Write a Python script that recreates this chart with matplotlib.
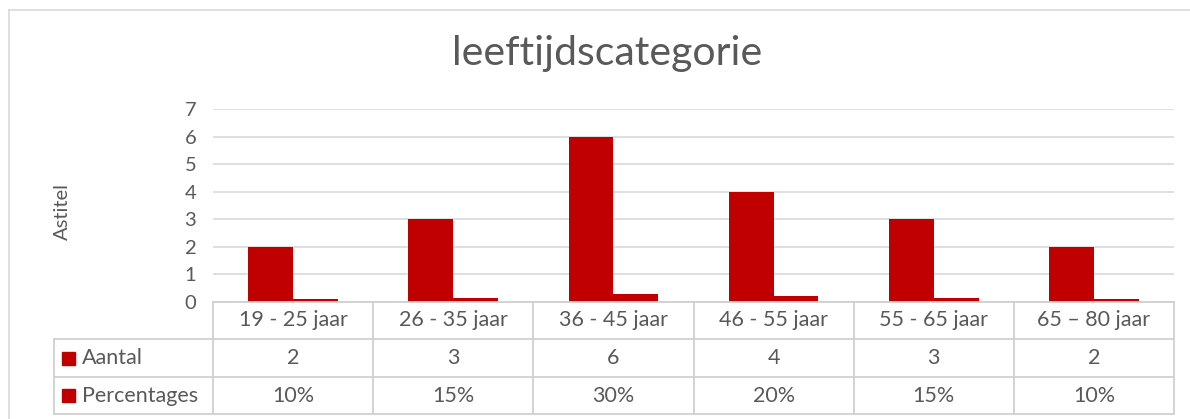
import matplotlib
matplotlib.use("Agg")
import matplotlib.pyplot as plt
from matplotlib.lines import Line2D
from matplotlib.patches import Rectangle

categories = ["19 - 25 jaar", "26 - 35 jaar", "36 - 45 jaar", "46 - 55 jaar", "55 - 65 jaar", "65 \u2013 80 jaar"]
aantal = [2, 3, 6, 4, 3, 2]
percentages = [0.10, 0.15, 0.30, 0.20, 0.15, 0.10]
series_names = ["Aantal", "Percentages"]
title = "leeftijdscategorie"
ylabel = "Astitel"
yticks = [0, 1, 2, 3, 4, 5, 6, 7]

W, H = 1190, 419
RED = "#C00000"
TXT = "#595959"
GRID = "#D9D9D9"
FONT = "Lato"

plt.rcParams['font.family'] = [FONT, 'DejaVu Sans']

fig = plt.figure(figsize=(W / 100, H / 100), dpi=100)

def fx(px):
    return px / W

def fy(py):
    return 1 - py / H

left_px, right_px, top_px, bot_px = 213, 1174, 109, 302
ax = fig.add_axes([fx(left_px), fy(bot_px), fx(right_px - left_px), fy(top_px) - fy(bot_px)])

n = len(categories)
xs = list(range(n))
bw = 0.28
ax.bar([x - bw / 2 for x in xs], aantal, width=bw, color=RED, zorder=3)
ax.bar([x + bw / 2 for x in xs], percentages, width=bw, color=RED, zorder=3)

ax.set_xlim(-0.5, n - 0.5)
ax.set_ylim(0, 7)
ax.set_yticks(yticks)
ax.set_yticklabels([str(t) for t in yticks], color=TXT, fontsize=14.5)
ax.tick_params(axis='y', length=0, pad=12)
ax.set_xticks([])
for s in ax.spines.values():
    s.set_visible(False)
ax.grid(axis='y', color=GRID, lw=1.2, zorder=0)
ax.set_axisbelow(True)

# title and y label
fig.text(fx(607), fy(54), title, ha='center', va='center', fontsize=29.5, color=TXT)
fig.text(fx(62), fy(211), ylabel, ha='center', va='center', rotation=90, fontsize=14.5, color=TXT)

# outer chart border
fig.add_artist(Line2D([fx(9), fx(1200)], [fy(10), fy(10)], color=GRID, lw=1.2))
fig.add_artist(Line2D([fx(9), fx(9)], [fy(10), fy(430)], color=GRID, lw=1.2))

# data table
row_y = [302, 339, 377, 414]
tab_left = 54
fig.canvas.draw()
def data_to_px(x):
    disp = ax.transData.transform((x, 0))
    return disp[0] / fig.dpi * 100

bounds = [data_to_px(i - 0.5) for i in range(n + 1)]
lc = "#D0D0D0"
lw = 1.3
fs_tab = 15.5
# horizontal lines
fig.add_artist(Line2D([fx(bounds[0]), fx(bounds[-1])], [fy(row_y[0]), fy(row_y[0])], color=lc, lw=lw))
for yy in row_y[1:]:
    fig.add_artist(Line2D([fx(tab_left), fx(bounds[-1])], [fy(yy), fy(yy)], color=lc, lw=lw))
# vertical lines
for b in bounds:
    fig.add_artist(Line2D([fx(b), fx(b)], [fy(row_y[0]), fy(row_y[-1])], color=lc, lw=lw))
fig.add_artist(Line2D([fx(tab_left), fx(tab_left)], [fy(row_y[1]), fy(row_y[-1])], color=lc, lw=lw))

centers = [(bounds[i] + bounds[i + 1]) / 2 for i in range(n)]
ymid = [(row_y[i] + row_y[i + 1]) / 2 for i in range(3)]
for i, c in enumerate(categories):
    fig.text(fx(centers[i]), fy(ymid[0]), c, ha='center', va='center', fontsize=fs_tab, color=TXT)
for i, v in enumerate(aantal):
    fig.text(fx(centers[i]), fy(ymid[1]), str(v), ha='center', va='center', fontsize=fs_tab, color=TXT)
for i, v in enumerate(percentages):
    fig.text(fx(centers[i]), fy(ymid[2]), f"{round(v * 100)}%", ha='center', va='center', fontsize=fs_tab, color=TXT)

for r, name in enumerate(series_names):
    yc = ymid[r + 1]
    sq = 13
    fig.add_artist(Rectangle((fx(62), fy(yc + sq / 2)), fx(sq), fy(yc - sq / 2) - fy(yc + sq / 2), color=RED))
    fig.text(fx(82), fy(yc), name, ha='left', va='center', fontsize=fs_tab, color=TXT)

fig.savefig("out.png", dpi=100, facecolor="white")
